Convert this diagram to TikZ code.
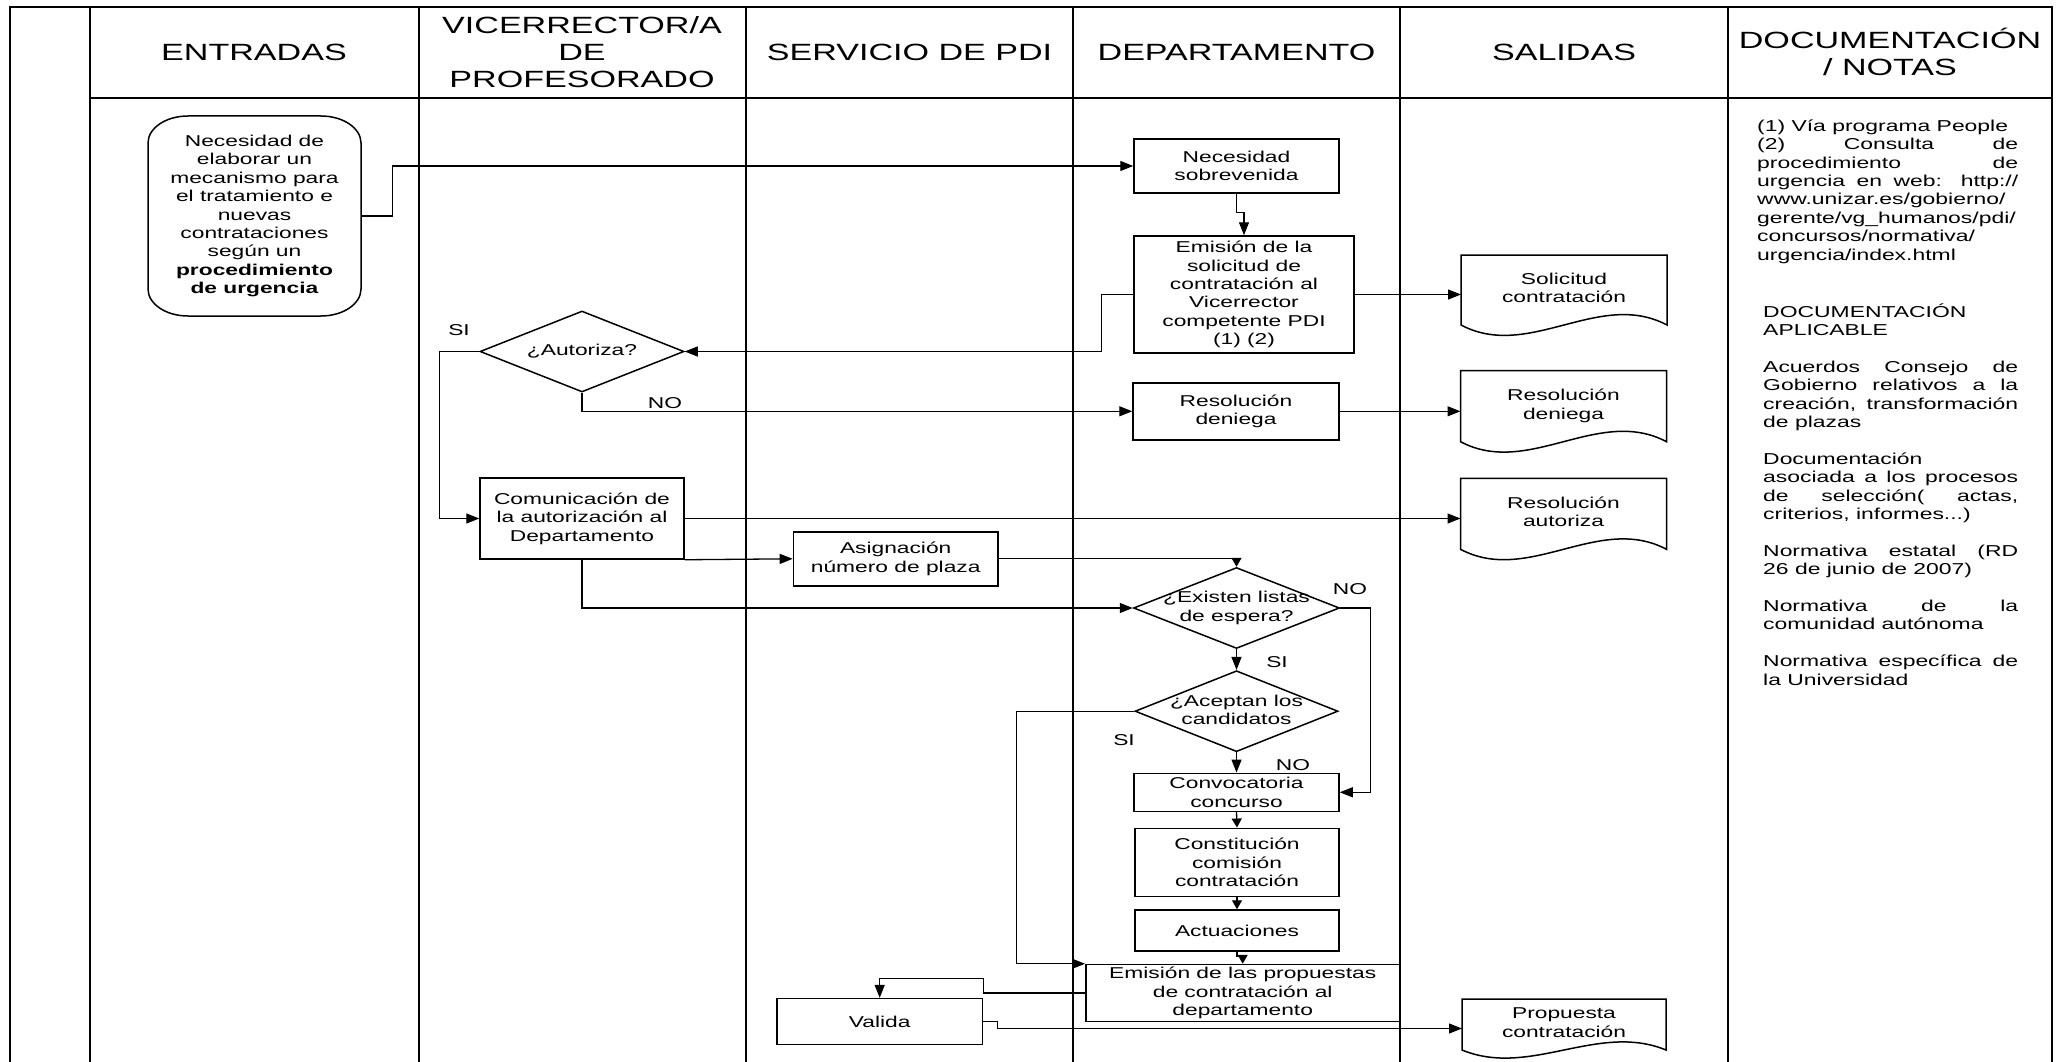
\documentclass[tikz,border=0pt]{standalone}
\usepackage{fontspec}
\setmainfont{Liberation Sans}[FakeStretch=1.45]
\usetikzlibrary{arrows.meta,shapes.geometric,calc}
\newcommand\mybody{\fontsize{15.7}{18.4}\selectfont}
\newcommand\myhead{\fontsize{23.5}{27}\selectfont}
\newcommand\mynote{\fontsize{15.8}{18.4}\selectfont}
\newcommand\docoutline[2]{%
  \draw[shp] (#1.south west) -- (#1.north west) -- (#1.north east) -- (#1.south east)
    .. controls ($(#1.south east)+(-68,-#2)$) and ($(#1.south west)+(68,#2)$) .. (#1.south west) -- cycle;}
\newcommand\dtext[1]{\makebox[0pt]{\smash{\raisebox{-4pt}{\begin{tabular}{@{}c@{}}#1\end{tabular}}}}}
\newcommand\rtext[2]{\raisebox{#1}{\begin{tabular}{@{}c@{}}#2\end{tabular}}}
\tikzset{
  tbl/.style={line width=2pt},
  shp/.style={line width=1.5pt},
  con/.style={line width=1.3pt, -{Triangle[length=13pt,width=10pt]}},
  cshort/.style={line width=1.3pt, -{Triangle[length=9pt,width=10pt]}},
  box/.style={draw, shp, rectangle, inner sep=0pt, align=center, font=\mybody},
  dia/.style={draw, shp, diamond, inner sep=0pt, minimum width=204pt, minimum height=81pt, font=\mybody},
  doc/.style={rectangle, inner sep=0pt, outer sep=0pt, minimum width=206pt, font=\mybody},
  hdr/.style={align=center, font=\myhead, inner sep=0pt},
  lbl/.style={font=\mybody, inner sep=0pt},
  note/.style={font=\mynote, inner sep=0pt, anchor=west},
}
\begin{document}
\begin{tikzpicture}[x=1pt,y=-1pt]
\useasboundingbox (0,0) rectangle (2062,1062);
\fill[white] (0,0) rectangle (2062,1062);
% table
\draw[tbl] (10,1062) -- (10,7) -- (2052,7) -- (2052,1062);
\draw[tbl] (90,97.7) -- (2052,97.7);
\foreach \x in {90,418.5,746,1073,1400,1727.5} \draw[tbl] (\x,7) -- (\x,1062);
% headers
\node[hdr] (h1) at (254,52) {ENTRADAS};
\node[hdr] (h2) at (582,52) {VICERRECTOR/A\\DE\\PROFESORADO};
\node[hdr] (h3) at (909.5,52) {SERVICIO DE PDI};
\node[hdr] (h4) at (1236.5,52) {DEPARTAMENTO};
\node[hdr] (h5) at (1564,52) {SALIDAS};
\node[hdr] (h6) at (1890,52) {DOCUMENTACIÓN\\/ NOTAS};
% entradas
\node[align=center, font=\mybody, inner sep=0pt, minimum width=213pt, minimum height=200pt] (ent) at (254.5,216)
  {Necesidad de\\elaborar un\\mecanismo para\\el tratamiento e\\nuevas\\contrataciones\\según un\\\textbf{procedimiento}\\\textbf{de urgencia}};
\draw[shp] (188,116) -- (321,116) .. controls (343.1,116) and (361,128.1) .. (361,143) -- (361,289)
  .. controls (361,303.9) and (343.1,316) .. (321,316) -- (188,316)
  .. controls (165.9,316) and (148,303.9) .. (148,289) -- (148,143)
  .. controls (148,128.1) and (165.9,116) .. (188,116) -- cycle;
% process nodes
\node[box, minimum width=205pt, minimum height=54pt] (nec) at (1236.5,166) {Necesidad\\sobrevenida};
\node[box, minimum width=220pt, minimum height=117pt] (emi) at (1244,294.5) {Emisión de la\\solicitud de\\contratación al\\Vicerrector\\competente PDI\\(1) (2)};
\node[dia] (aut) at (582,351.5) {\dtext{¿Autoriza?}};
\node[box, minimum width=206pt, minimum height=57pt] (den) at (1236,411.3) {Resolución\\deniega};
\node[box, minimum width=204pt, minimum height=81pt] (com) at (582,518.5) {Comunicación de\\la autorización al\\Departamento};
\node[box, minimum width=204.5pt, minimum height=54pt] (asi) at (895.7,558.8) {Asignación\\número de plaza};
\node[dia, minimum width=206pt] (ex) at (1236.5,608) {\dtext{¿Existen listas\\de espera?}};
\node[dia, minimum width=203pt] (ace) at (1236.5,711.2) {\dtext{¿Aceptan los\\candidatos}};
\node[box, minimum width=205pt, minimum height=38pt] (conv) at (1236.5,792.3) {Convocatoria\\concurso};
\node[box, minimum width=204pt, minimum height=68.4pt] (cons) at (1237,862.5) {Constitución\\comisión\\contratación};
\node[box, minimum width=204pt, minimum height=41pt] (act) at (1237,930.5) {Actuaciones};
\node[box, minimum width=313.8pt, minimum height=57pt] (emp) at (1242.7,993) {Emisión de las propuestas\\de contratación al\\departamento};
\node[box, minimum width=205.5pt, minimum height=46pt] (val) at (879.7,1021.6) {Valida};
% documents
\node[doc, minimum height=70pt] (sol) at (1564,290) {\rtext{5.5pt}{Solicitud\\contratación}};
\docoutline{sol}{36}
\node[doc, minimum height=71pt] (dden) at (1563.5,406.2) {\rtext{4.7pt}{Resolución\\deniega}};
\docoutline{dden}{36}
\node[doc, minimum height=71pt] (daut) at (1563.5,513.8) {\rtext{5.4pt}{Resolución\\autoriza}};
\docoutline{daut}{36}
\node[doc, minimum width=204pt, minimum height=51pt] (dprop) at (1564,1024.5) {\rtext{4pt}{Propuesta\\contratación}};
\docoutline{dprop}{28}
% connectors
\draw[con] (ent.east) -- ++(31,0) |- (nec.west);
\draw[con] (nec.south) -- ++(0,19) -| (emi.north);
\draw[con] (emi.east) -- (emi.east -| sol.west);
\draw[con] (emi.west) -- ++(-32,0) |- (aut.east);
\draw[con] (aut.south) |- (den.west);
\draw[con] (den.east) -- (den.east -| dden.west);
\draw[con] (aut.west) -- ++(-40,0) |- (com.west);
\draw[con] (com.east) -- (com.east -| daut.west);
\draw[con] (com.south east) -- (asi.west);
\draw[cshort] (asi.east) -| (ex.north);
\draw[con] (com.south) |- (ex.west);
\draw[con] (ex.south) -- (ace.north);
\draw[con] (ex.east) -- ++(30.5,0) |- (conv.east);
\draw[con] (ace.south) -- (conv.north);
\draw[con] (ace.west) -- ++(-118,0) |- (emp.north west);
\draw[cshort] (conv.south) -- (cons.north);
\draw[cshort] (cons.south) -- (act.north);
\draw[cshort] (act.south) -- ++(0,5) -| (emp.north);
\draw[con] (emp.west) -- (emp.west -| val.east) -- ++(0,-14.7) -| (val.north);
\draw[con] (val.east) -- ++(14,0) |- ([yshift=-4pt]dprop.west);
% labels
\node[lbl] (l1) at (459,330) {SI};
\node[lbl] (l2) at (665,403) {NO};
\node[lbl] (l3) at (1350,589) {NO};
\node[lbl] (l4) at (1277,662) {SI};
\node[lbl] (l5) at (1124,740) {SI};
\node[lbl] (l6) at (1293,765) {NO};
% notes
\node[note] (n1) at (1757,192) {\begin{tabular}{@{}l@{}}
(1) Vía programa People\\
\makebox[261pt][s]{(2) Consulta de}\\
\makebox[261pt][s]{procedimiento de}\\
\makebox[261pt][s]{urgencia en web: http://}\\
www.unizar.es/gobierno/\\
gerente/vg\_humanos/pdi/\\
concursos/normativa/\\
urgencia/index.html
\end{tabular}};
\node[note] (n2) at (1763,497) {\begin{tabular}{@{}l@{}}
DOCUMENTACIÓN\\
APLICABLE\\
\\
\makebox[255pt][s]{Acuerdos Consejo de}\\
\makebox[255pt][s]{Gobierno relativos a la}\\
\makebox[255pt][s]{creación, transformación}\\
de plazas\\
\\
Documentación\\
\makebox[255pt][s]{asociada a los procesos}\\
\makebox[255pt][s]{de selección( actas,}\\
criterios, informes...)\\
\\
\makebox[255pt][s]{Normativa estatal (RD}\\
26 de junio de 2007)\\
\\
\makebox[255pt][s]{Normativa de la}\\
comunidad autónoma\\
\\
\makebox[255pt][s]{Normativa específica de}\\
la Universidad
\end{tabular}};
\end{tikzpicture}
\end{document}
